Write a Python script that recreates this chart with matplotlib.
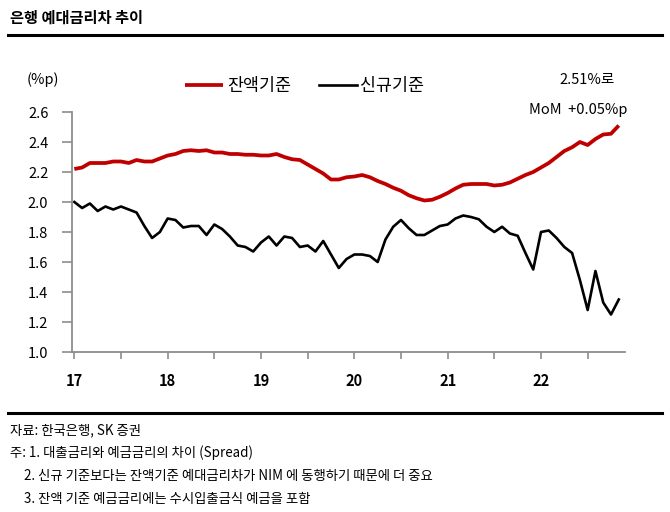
import numpy as np
import matplotlib
matplotlib.use('Agg')
import matplotlib.pyplot as plt
from matplotlib.lines import Line2D

plt.rcParams['font.family'] = ['Noto Sans CJK KR', 'DejaVu Sans']

# monthly data, Jan 2017 - Nov 2022
balance = [2.22, 2.23, 2.26, 2.26, 2.26, 2.27, 2.27, 2.26, 2.28, 2.27, 2.27, 2.29,
           2.31, 2.32, 2.34, 2.345, 2.34, 2.345, 2.33, 2.33, 2.32, 2.32, 2.315, 2.315,
           2.31, 2.31, 2.32, 2.30, 2.285, 2.28, 2.25, 2.22, 2.19, 2.15, 2.15, 2.165,
           2.17, 2.18, 2.165, 2.14, 2.12, 2.095, 2.075, 2.045, 2.025, 2.01, 2.015, 2.035,
           2.06, 2.09, 2.115, 2.12, 2.12, 2.12, 2.11, 2.115, 2.13, 2.155, 2.18, 2.20,
           2.23, 2.26, 2.30, 2.34, 2.365, 2.40, 2.38, 2.42, 2.45, 2.455, 2.51]
new_loans = [2.00, 1.96, 1.99, 1.94, 1.97, 1.95, 1.97, 1.95, 1.93, 1.84, 1.76, 1.80,
             1.89, 1.88, 1.83, 1.84, 1.84, 1.78, 1.85, 1.82, 1.77, 1.71, 1.70, 1.67,
             1.73, 1.77, 1.71, 1.77, 1.76, 1.70, 1.71, 1.67, 1.74, 1.65, 1.56, 1.62,
             1.65, 1.65, 1.64, 1.60, 1.75, 1.835, 1.88, 1.825, 1.78, 1.78, 1.81, 1.84,
             1.85, 1.89, 1.91, 1.90, 1.885, 1.835, 1.80, 1.835, 1.79, 1.775, 1.66, 1.55,
             1.80, 1.81, 1.76, 1.70, 1.66, 1.48, 1.28, 1.54, 1.33, 1.25, 1.35]
year_labels = ['17', '18', '19', '20', '21', '22']

months = np.arange(len(balance))

fig = plt.figure(figsize=(6.7, 5.12), dpi=100)
ax = fig.add_axes([72 / 670, 1 - 352 / 512, (625 - 72) / 670, (352 - 112) / 512])

ax.plot(months, balance, color='#C00000', lw=2.7, label='잔액기준', solid_capstyle='butt')
ax.plot(months, new_loans, color='black', lw=1.9, label='신규기준')

ax.set_xlim(-0.3, 70.8)
ax.set_ylim(1.0, 2.6)
ax.set_yticks(np.arange(1.0, 2.61, 0.2))
ax.set_yticklabels([f'{v:.1f}' for v in np.arange(1.0, 2.61, 0.2)], fontsize=10.5)
ax.set_xticks(np.arange(0, 67, 6))
ax.set_xticklabels([year_labels[i // 2] if i % 2 == 0 else '' for i in range(12)],
                   fontsize=10.5, fontweight='bold')

for side in ['top', 'right']:
    ax.spines[side].set_visible(False)
for side in ['left', 'bottom']:
    ax.spines[side].set_color('#8c8c8c')
    ax.spines[side].set_linewidth(1.3)
ax.tick_params(axis='y', direction='out', length=7, width=1.2, color='#8c8c8c', pad=10)
ax.tick_params(axis='x', direction='out', length=5, width=1.2, color='#8c8c8c', pad=10)

fig.legend(loc='center', bbox_to_anchor=(0.455, 0.832), ncol=2, frameon=False,
           fontsize=12.5, handlelength=2.2, handletextpad=0.2, columnspacing=1.6)

fig.text(27 / 670, 1 - 80 / 512, '(%p)', fontsize=10.5, va='center', ha='left')
fig.text(615 / 670, 1 - 80 / 512, '2.51%로', fontsize=10.5, va='center', ha='right')
fig.text(627 / 670, 1 - 110 / 512, 'MoM  +0.05%p', fontsize=10.5, va='center', ha='right')

# title and rules
fig.text(10 / 670, 1 - 18 / 512, '은행 예대금리차 추이', fontsize=11, fontweight='bold',
         va='center', ha='left')
fig.add_artist(Line2D([8 / 670, 662 / 670], [1 - 35 / 512, 1 - 35 / 512], color='black', lw=2.2))
fig.add_artist(Line2D([8 / 670, 662 / 670], [1 - 413 / 512, 1 - 413 / 512], color='black', lw=2.2))

notes = [
    (10, 430, '자료: 한국은행, SK 증권'),
    (10, 453, '주: 1. 대출금리와 예금금리의 차이 (Spread)'),
    (24, 476, '2. 신규 기준보다는 잔액기준 예대금리차가 NIM 에 동행하기 때문에 더 중요'),
    (24, 499, '3. 잔액 기준 예금금리에는 수시입출금식 예금을 포함'),
]
for x, y, s in notes:
    fig.text(x / 670, 1 - y / 512, s, fontsize=9.6, va='center', ha='left')

fig.savefig('out.png', dpi=100)
